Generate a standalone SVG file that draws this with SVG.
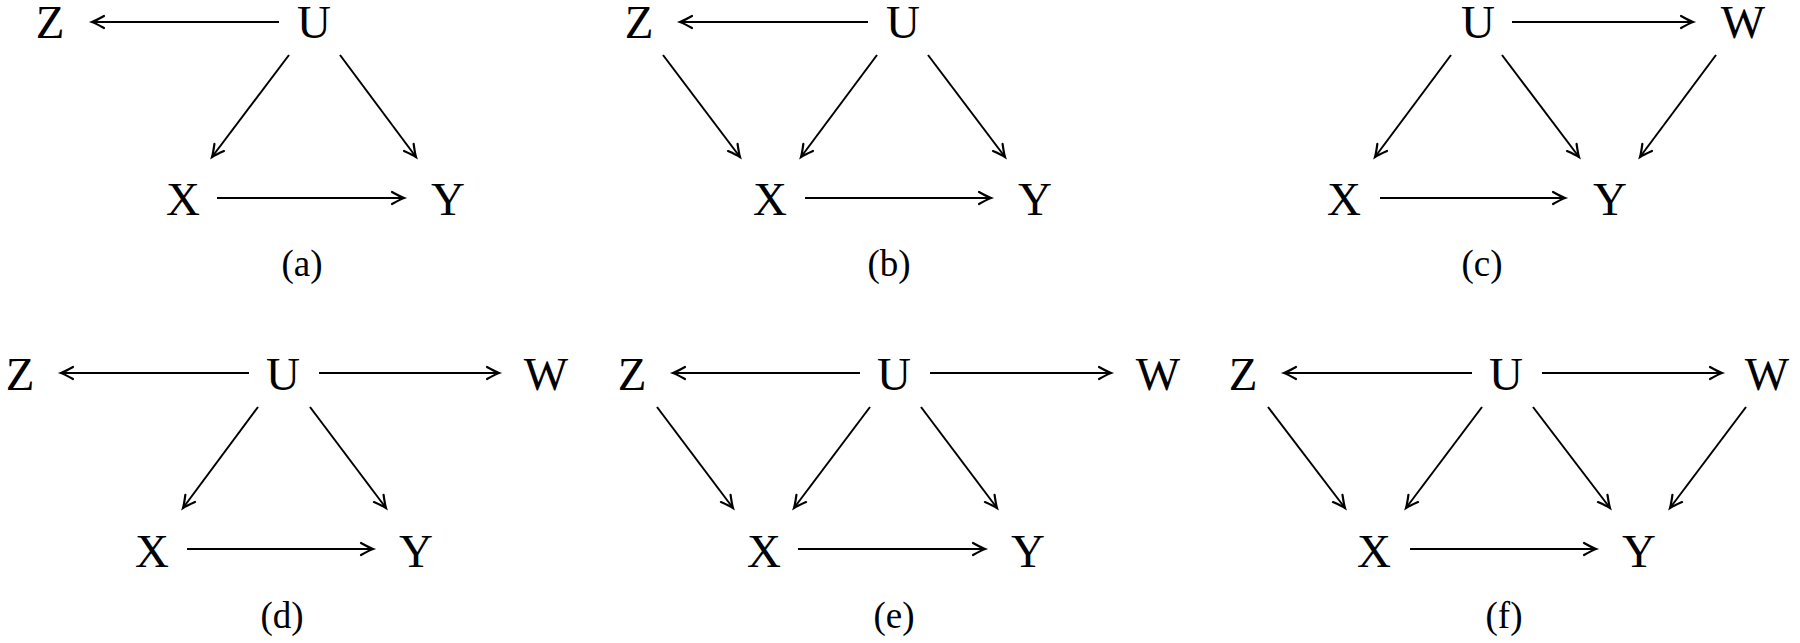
<svg xmlns="http://www.w3.org/2000/svg" width="1800" height="643" viewBox="0 0 1800 643">
<defs>
<style>
.n{font-family:"Liberation Serif","Times New Roman",serif;font-size:47px;fill:#000;text-anchor:middle}
.c{font-family:"Liberation Serif","Times New Roman",serif;font-size:37px;fill:#000;text-anchor:middle}
.e{stroke:#000;stroke-width:2;fill:none;marker-end:url(#ah)}
</style>
<marker id="ah" markerUnits="userSpaceOnUse" viewBox="-14 -8 16 16" refX="0" refY="0" markerWidth="16" markerHeight="16" orient="auto" overflow="visible">
<path d="M-12,-6 Q-3.5,-1.3 0,0 Q-3.5,1.3 -12,6" stroke="#000" stroke-width="2.2" fill="none" stroke-linecap="round"/>
</marker>
</defs>
<rect width="1800" height="643" fill="#fff"/>

<!-- Panel a -->
<g id="a">
<g id="a-Z"><text class="n" x="50" y="38">Z</text></g>
<g id="a-U"><text class="n" x="314" y="38">U</text></g>
<g id="a-X"><text class="n" x="183" y="215">X</text></g>
<g id="a-Y"><text class="n" x="448" y="215">Y</text></g>
<g id="a-cap"><text class="c" x="302" y="276">(a)</text></g>
<g id="a-edges">
<line class="e" x1="279" y1="22" x2="92" y2="22"/>
<line class="e" x1="289" y1="55" x2="212" y2="157"/>
<line class="e" x1="340" y1="55" x2="416" y2="157"/>
<line class="e" x1="217" y1="198" x2="404" y2="198"/>
</g>
</g>

<!-- Panel b -->
<g id="b">
<g id="b-Z"><text class="n" x="639" y="38">Z</text></g>
<g id="b-U"><text class="n" x="903" y="38">U</text></g>
<g id="b-X"><text class="n" x="770" y="215">X</text></g>
<g id="b-Y"><text class="n" x="1035" y="215">Y</text></g>
<g id="b-cap"><text class="c" x="889" y="276">(b)</text></g>
<g id="b-edges">
<line class="e" x1="868" y1="22" x2="680" y2="22"/>
<line class="e" x1="663" y1="55" x2="740" y2="157"/>
<line class="e" x1="877" y1="55" x2="801" y2="157"/>
<line class="e" x1="928" y1="55" x2="1005" y2="157"/>
<line class="e" x1="805" y1="198" x2="991" y2="198"/>
</g>
</g>

<!-- Panel c -->
<g id="c">
<g id="c-U"><text class="n" x="1478" y="38">U</text></g>
<g id="c-W"><text class="n" x="1743" y="38">W</text></g>
<g id="c-X"><text class="n" x="1344" y="215">X</text></g>
<g id="c-Y"><text class="n" x="1610" y="215">Y</text></g>
<g id="c-cap"><text class="c" x="1482" y="276">(c)</text></g>
<g id="c-edges">
<line class="e" x1="1512" y1="22" x2="1693" y2="22"/>
<line class="e" x1="1451" y1="55" x2="1375" y2="157"/>
<line class="e" x1="1502" y1="55" x2="1579" y2="157"/>
<line class="e" x1="1716" y1="55" x2="1640" y2="157"/>
<line class="e" x1="1380" y1="198" x2="1565" y2="198"/>
</g>
</g>

<!-- Panel d -->
<g id="d">
<g id="d-Z"><text class="n" x="20" y="390">Z</text></g>
<g id="d-U"><text class="n" x="283" y="390">U</text></g>
<g id="d-W"><text class="n" x="546" y="390">W</text></g>
<g id="d-X"><text class="n" x="152" y="567">X</text></g>
<g id="d-Y"><text class="n" x="416" y="567">Y</text></g>
<g id="d-cap"><text class="c" x="282" y="628">(d)</text></g>
<g id="d-edges">
<line class="e" x1="249" y1="373" x2="61" y2="373"/>
<line class="e" x1="319" y1="373" x2="499" y2="373"/>
<line class="e" x1="258" y1="407" x2="183" y2="508"/>
<line class="e" x1="310" y1="407" x2="386" y2="508"/>
<line class="e" x1="187" y1="549" x2="373" y2="549"/>
</g>
</g>

<!-- Panel e -->
<g id="e">
<g id="e-Z"><text class="n" x="632" y="390">Z</text></g>
<g id="e-U"><text class="n" x="894" y="390">U</text></g>
<g id="e-W"><text class="n" x="1158" y="390">W</text></g>
<g id="e-X"><text class="n" x="764" y="567">X</text></g>
<g id="e-Y"><text class="n" x="1028" y="567">Y</text></g>
<g id="e-cap"><text class="c" x="894" y="628">(e)</text></g>
<g id="e-edges">
<line class="e" x1="860" y1="373" x2="673" y2="373"/>
<line class="e" x1="930" y1="373" x2="1111" y2="373"/>
<line class="e" x1="657" y1="407" x2="733" y2="508"/>
<line class="e" x1="870" y1="407" x2="794" y2="508"/>
<line class="e" x1="921" y1="407" x2="997" y2="508"/>
<line class="e" x1="798" y1="549" x2="985" y2="549"/>
</g>
</g>

<!-- Panel f -->
<g id="f">
<g id="f-Z"><text class="n" x="1243" y="390">Z</text></g>
<g id="f-U"><text class="n" x="1506" y="390">U</text></g>
<g id="f-W"><text class="n" x="1767" y="390">W</text></g>
<g id="f-X"><text class="n" x="1374" y="567">X</text></g>
<g id="f-Y"><text class="n" x="1639" y="567">Y</text></g>
<g id="f-cap"><text class="c" x="1504" y="628">(f)</text></g>
<g id="f-edges">
<line class="e" x1="1472" y1="373" x2="1284" y2="373"/>
<line class="e" x1="1542" y1="373" x2="1722" y2="373"/>
<line class="e" x1="1268" y1="407" x2="1345" y2="508"/>
<line class="e" x1="1482" y1="407" x2="1406" y2="508"/>
<line class="e" x1="1533" y1="407" x2="1610" y2="508"/>
<line class="e" x1="1746" y1="407" x2="1670" y2="508"/>
<line class="e" x1="1410" y1="549" x2="1596" y2="549"/>
</g>
</g>
</svg>
